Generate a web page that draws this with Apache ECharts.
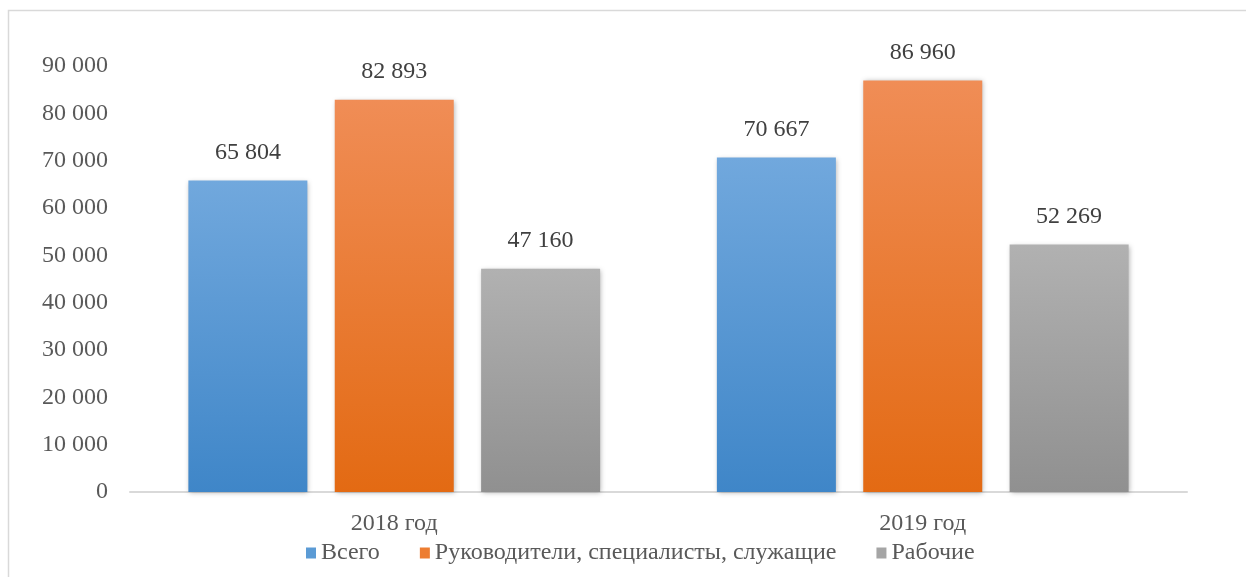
<!DOCTYPE html>
<html>
<head>
<meta charset="utf-8">
<script src="https://cdn.jsdelivr.net/npm/echarts@6/dist/echarts.min.js"></script>
<style>html,body{margin:0;padding:0;background:#fff}#c{width:1246px;height:577px}</style>
</head>
<body>
<div id="c"></div>
<script>
var categories = ['2018 год', '2019 год'];
var seriesNames = ['Всего', 'Руководители, специалисты, служащие', 'Рабочие'];
var vsego = [65804, 70667];
var rukovoditeli = [82893, 86960];
var rabochie = [47160, 52269];
var yTicks = [0, 10000, 20000, 30000, 40000, 50000, 60000, 70000, 80000, 90000];

function fmt(v) { return String(v).replace(/\B(?=(\d{3})+(?!\d))/g, ' '); }
function grad(top, bottom) {
  return new echarts.graphic.LinearGradient(0, 0, 0, 1, [{offset: 0, color: top}, {offset: 1, color: bottom}]);
}
var colors = [
  ['#71a8dd', '#3f86c8'],
  ['#f08d56', '#e36a13'],
  ['#b1b1b1', '#909090']
];
var legendColors = ['#5b9bd5', '#ed7d31', '#a5a5a5'];
var data = [vsego, rukovoditeli, rabochie];
var font = 'Liberation Serif';

var chart = echarts.init(document.getElementById('c'), null, {renderer: 'canvas'});
chart.setOption({
  animation: false,
  textStyle: {fontFamily: font},
  graphic: [{
    type: 'rect', shape: {x: 8.5, y: 10.5, width: 1300, height: 700},
    style: {fill: 'none', stroke: '#d9d9d9', lineWidth: 1.5}, silent: true, z: -1
  }],
  grid: {left: 130, right: 59, top: 66, bottom: 85},
  legend: {
    data: seriesNames.map(function (n, i) { return {name: n, itemStyle: {color: legendColors[i], shadowBlur: 0}}; }),
    left: 301, top: 536,
    icon: 'rect', itemWidth: 10, itemHeight: 11, itemGap: 40,
    textStyle: {fontFamily: font, fontSize: 24, color: '#595959'}
  },
  xAxis: {
    type: 'category', data: categories,
    axisLine: {lineStyle: {color: '#d9d9d9', width: 2}},
    axisTick: {show: false},
    axisLabel: {fontFamily: font, fontSize: 24, color: '#595959', margin: 20}
  },
  yAxis: {
    type: 'value', min: yTicks[0], max: yTicks[yTicks.length - 1], interval: 10000,
    axisLine: {show: false}, axisTick: {show: false}, splitLine: {show: false},
    axisLabel: {fontFamily: font, fontSize: 24, color: '#595959', margin: 22, formatter: function (v) { return fmt(v); }}
  },
  series: data.map(function (d, i) {
    return {
      name: seriesNames[i], type: 'bar', data: d,
      barWidth: 119, barGap: '23%',
      itemStyle: {
        color: grad(colors[i][0], colors[i][1]),
        shadowBlur: 5, shadowColor: 'rgba(0,0,0,0.3)', shadowOffsetX: 1, shadowOffsetY: 1
      },
      label: {
        show: true, position: 'top', distance: 16,
        fontFamily: font, fontSize: 24, color: '#404040',
        formatter: function (p) { return fmt(p.value); }
      }
    };
  })
});
</script>
</body>
</html>
